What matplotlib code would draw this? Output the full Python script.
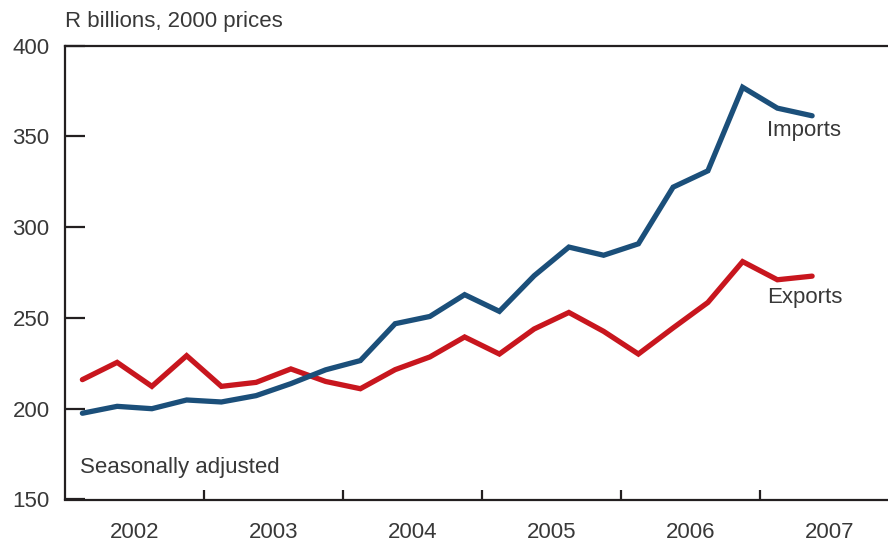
import numpy as np
import matplotlib
matplotlib.use("Agg")
import matplotlib.pyplot as plt
from matplotlib.ticker import FixedLocator

# quarterly, 2002Q1 .. 2007Q2
quarters = [f"{y}Q{q}" for y in range(2002, 2008) for q in range(1, 5)][:22]
imports = [197.5, 201.3, 200.0, 204.8, 203.7, 207.2, 213.8, 221.4, 226.5, 246.8, 250.8,
           262.8, 253.6, 273.2, 289.0, 284.5, 290.8, 322.0, 331.0, 377.0, 365.5, 361.3]
exports = [216.0, 225.5, 212.3, 229.2, 212.3, 214.5, 221.9, 215.0, 211.0, 221.5, 228.5,
           239.5, 230.1, 243.9, 253.0, 242.6, 230.1, 244.5, 258.5, 281.0, 271.0, 273.0]
years = [2002, 2003, 2004, 2005, 2006, 2007]
yticks = [150, 200, 250, 300, 350, 400]

plt.rcParams['font.family'] = ['Liberation Sans', 'DejaVu Sans']
dark = "#231f20"
txt = "#383838"
fs = 16

x = np.array([int(s[:4]) + (int(s[-1]) - 0.5) / 4 for s in quarters])

fig = plt.figure(figsize=(8.88, 5.44), dpi=100)
ax = fig.add_axes([65 / 888, 44.5 / 544, 1 - 65 / 888, (499.5 - 45.5) / 544])

ax.plot(x, exports, color="#c8161e", lw=3.8, solid_capstyle="round", solid_joinstyle="miter")
ax.plot(x, imports, color="#1b4f7a", lw=3.8, solid_capstyle="round", solid_joinstyle="miter")

ax.set_xlim(2002, 2002 + (888 - 65) / 139)
ax.set_ylim(150, 400)

ax.spines["right"].set_visible(False)
for s in ["left", "top", "bottom"]:
    ax.spines[s].set_linewidth(1.6)
    ax.spines[s].set_color(dark)

ax.set_yticks(yticks)
ax.set_yticklabels([str(v) for v in yticks])
ax.tick_params(axis="y", direction="in", length=14.4, width=1.6, color=dark,
               labelsize=fs, labelcolor=txt, pad=11)

ax.xaxis.set_major_locator(FixedLocator(years[1:]))
ax.xaxis.set_minor_locator(FixedLocator([y + 0.5 for y in years]))
ax.tick_params(axis="x", which="major", direction="in", length=7.2, width=1.6,
               color=dark, labelbottom=False)
ax.tick_params(axis="x", which="minor", length=0, labelsize=fs, labelcolor=txt, pad=16)
ax.set_xticklabels([str(y) for y in years], minor=True)

fig.text(65 / 888, 1 - 22 / 544, "R billions, 2000 prices", fontsize=fs, color=txt,
         va="center", ha="left")
lx = 2002 + (767 - 65) / 139
ax.text(lx, 353, "Imports", fontsize=fs, color=txt, va="center")
ax.text(lx, 261, "Exports", fontsize=fs, color=txt, va="center")
ax.text(2002 + (80 - 65) / 139, 400 - (468 - 45.5) * 50 / 90.9, "Seasonally adjusted",
        fontsize=fs, color=txt, va="center")

fig.savefig("out.png", dpi=100)
